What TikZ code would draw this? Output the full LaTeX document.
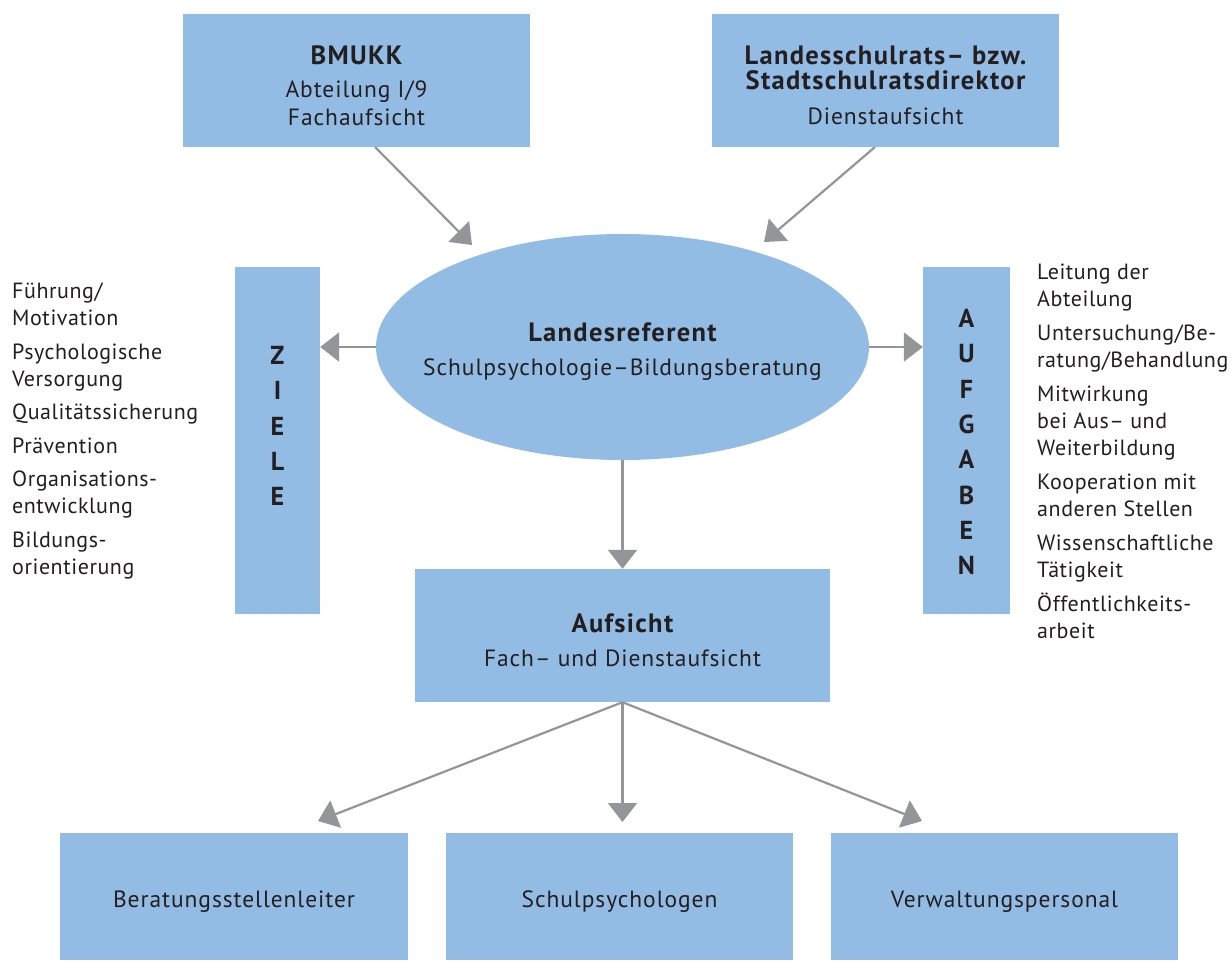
\documentclass[tikz,border=0pt]{standalone}
\usepackage{fontspec}
\setmainfont{PT Sans}
\usetikzlibrary{arrows.meta,shapes.geometric}
\definecolor{boxblue}{HTML}{93BCE5}
\definecolor{arrowgray}{HTML}{939598}
\definecolor{inkdark}{HTML}{231F20}
\tikzset{
  bluebox/.style={rectangle,fill=boxblue,inner sep=0pt},
  boxtext/.style={inner sep=0pt,align=center,text=inkdark,yshift=-5pt},
  grayarrow/.style={draw=arrowgray,line width=2.2pt,-{Triangle[length=19pt,width=29pt]}},
  listtext/.style={anchor=north west,inner sep=0pt,align=left,text=inkdark,
    font=\fontsize{22}{27}\selectfont\addfontfeature{LetterSpace=2.5}},
  letters/.style={anchor=north,inner sep=0pt,align=center,text=inkdark,
    font=\bfseries\fontsize{26}{35.3}\selectfont}
}
\newcommand{\titlefont}{\bfseries\fontsize{26.5}{26.5}\selectfont\addfontfeature{LetterSpace=5}}
\begin{document}
\begin{tikzpicture}[x=1pt,y=-1pt,font=\fontsize{23.5}{28}\selectfont\addfontfeature{LetterSpace=4}]
  \useasboundingbox (0,0) rectangle (1231,961);
  \node[bluebox,minimum width=347pt,minimum height=133pt] (bmukk) at (356.5,80.5) {};
  \node[boxtext] (bmukktext) at (bmukk) {{\titlefont BMUKK}\\[5pt]Abteilung I/9\\Fachaufsicht};
  \node[bluebox,minimum width=347pt,minimum height=133pt] (lsr) at (885.5,80.5) {};
  \node[boxtext] (lsrtext) at (lsr)
    {{\titlefont Landesschulrats– bzw.}\\[-3pt]{\titlefont Stadtschulratsdirektor}\\[7pt]Dienstaufsicht};
  \node[ellipse,fill=boxblue,inner sep=0pt,minimum width=493pt,minimum height=226pt] (lref) at (622.5,347) {};
  \node[boxtext] (lreftext) at (lref) {{\titlefont Landesreferent}\\[6pt]Schulpsychologie–Bildungsberatung};
  \node[bluebox,minimum width=85pt,minimum height=347pt] (ziele) at (277.5,440.5) {};
  \node[letters] (zlet) at (ziele.north |- 0,346) {Z\\I\\E\\L\\E};
  \node[bluebox,minimum width=87pt,minimum height=347pt] (aufg) at (966.5,440.5) {};
  \node[letters] (alet) at (aufg.north |- 0,309) {A\\U\\F\\G\\A\\B\\E\\N};
  \node[bluebox,minimum width=415pt,minimum height=133pt] (aufs) at (622.5,635.5) {};
  \node[boxtext] (aufstext) at (aufs) {{\titlefont Aufsicht}\\[6pt]Fach– und Dienstaufsicht};
  \node[bluebox,minimum width=348pt,minimum height=127pt] (bsl) at (234,896.5) {};
  \node[boxtext] (bsltext) at (bsl) {Beratungsstellenleiter};
  \node[bluebox,minimum width=347pt,minimum height=127pt] (spsy) at (619.5,896.5) {};
  \node[boxtext] (spsytext) at (spsy) {Schulpsychologen};
  \node[bluebox,minimum width=347pt,minimum height=127pt] (vwp) at (1004.5,896.5) {};
  \node[boxtext] (vwptext) at (vwp) {Verwaltungspersonal};
  \node[listtext] (zliste) at (12,283)
    {Führung/\\Motivation\\[6.5pt]Psychologische\\Versorgung\\[6.5pt]Qualitätssicherung\\[6.5pt]Prävention\\[6.5pt]Organisations-\\entwicklung\\[6.5pt]Bildungs-\\orientierung};
  \node[listtext] (aliste) at (1037,264)
    {Leitung der\\Abteilung\\[7pt]Untersuchung/Be-\\ratung/Behandlung\\[7pt]Mitwirkung\\bei Aus– und\\Weiterbildung\\[7pt]Kooperation mit\\anderen Stellen\\[7pt]Wissenschaftliche\\Tätigkeit\\[7pt]Öffentlichkeits-\\arbeit};
  \coordinate (bmfoot) at (375,147);
  \coordinate (bmtip) at (472,245);
  \coordinate (lsrfoot) at (875,147);
  \coordinate (lsrtip) at (764,242);
  \coordinate (tipl) at (318,821);
  \coordinate (tipm) at (aufs.south |- 0,822);
  \coordinate (tipr) at (922,821);
  \draw[grayarrow] (bmfoot) -- (bmtip);
  \draw[grayarrow] (lsrfoot) -- (lsrtip);
  \draw[grayarrow] (lref.west) -- (lref.west -| ziele.east);
  \draw[grayarrow] (lref.east) -- (lref.east -| aufg.west);
  \draw[grayarrow] (lref.south) -- (lref.south |- aufs.north);
  \draw[grayarrow] (aufs.south) -- (tipl);
  \draw[grayarrow] (aufs.south) -- (tipm);
  \draw[grayarrow] (aufs.south) -- (tipr);
\end{tikzpicture}
\end{document}
